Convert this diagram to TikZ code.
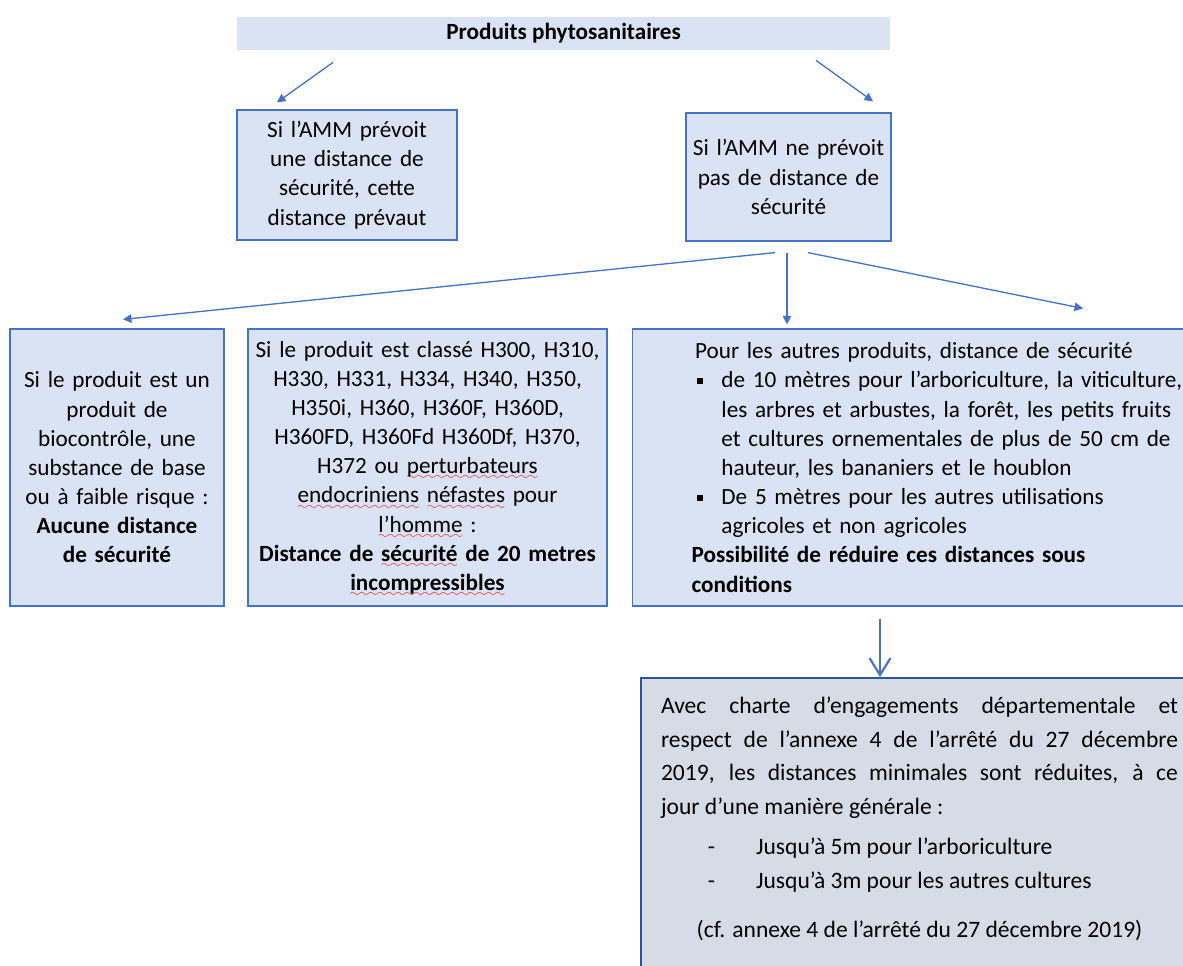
\documentclass[tikz,border=0pt]{standalone}
\usepackage{fontspec}
\setmainfont{Carlito}
\usetikzlibrary{arrows.meta,calc}
\definecolor{fond}{HTML}{DAE3F3}
\definecolor{fondgris}{HTML}{D6DCE5}
\definecolor{bord}{HTML}{4472C4}
\definecolor{bordfonce}{HTML}{2F5597}
\definecolor{trait}{HTML}{4472C4}
\font\sixwave=lasy6
\newcommand\fautewave[1]{\leavevmode\setbox0\hbox{#1}\rlap{\raisebox{-3.5pt}[0pt][0pt]{\textcolor{red}{\hbox to\wd0{\xleaders\hbox{\sixwave\char58}\hfill}}}}\box0\relax}
\newcommand{\corps}{\fontsize{13.2}{16.6}\selectfont}
\newcommand{\puce}{\makebox[17pt][l]{\hspace{3.2pt}\raisebox{2.3pt}{\rule{3.3pt}{3.3pt}}}}
\newcommand{\suite}{\hspace*{17pt}}
\newcommand{\tiret}{\hspace*{26.6pt}\makebox[27.5pt][l]{-}}
\tikzset{
  cadre/.style={draw=bord,fill=fond,line width=0.7pt,align=center,inner sep=1pt},
  fleche/.style={-{Triangle[length=1.7mm,width=1.7mm]},line width=0.75pt,draw=trait},
}

\begin{document}
\begin{tikzpicture}[x=0.02cm,y=-0.02cm,font=\corps]
  \useasboundingbox (0,0) rectangle (1183,965);
  \clip (0,0) rectangle (1183,965);
  % titre
  \node[fill=fond,minimum width=13.06cm,minimum height=0.66cm,font=\corps\bfseries] (titre) at (563.5,33.5) {Produits phytosanitaires};
  % deux cas AMM
  \node[cadre,minimum width=4.4cm,minimum height=2.6cm,text width=4.3cm] (amm) at (347,175)
    {Si l’AMM prévoit\\une distance de\\sécurité, cette\\distance prévaut};
  \node[cadre,minimum width=4.1cm,minimum height=2.56cm,text width=4.0cm] (pasamm) at (788.5,177)
    {Si l’AMM ne prévoit\\pas de distance de\\sécurité};
  % trois cas produits
  \node[cadre,minimum width=4.28cm,minimum height=5.54cm,text width=4.18cm] (bio) at (117,467.5)
    {Si le produit est un\\produit de\\biocontrôle, une\\substance de base\\ou à faible risque :\\\textbf{Aucune distance}\\\textbf{de sécurité}};
  \node[cadre,minimum width=7.18cm,minimum height=5.54cm,text width=7.08cm] (classe) at (427.5,467.5)
    {Si le produit est classé H300, H310,\\H330, H331, H334, H340, H350,\\H350i, H360, H360F, H360D,\\H360FD, H360Fd H360Df, H370,\\H372 ou \fautewave{perturbateurs}\\\fautewave{endocriniens} \fautewave{néfastes} pour\\\fautewave{l’homme} :\\\textbf{Distance de \fautewave{sécurité} de 20 metres}\\\textbf{\fautewave{incompressibles}}};
  \node[cadre,anchor=west,align=left,inner xsep=1.18cm,minimum height=5.54cm,text width=10.5cm] (autres) at (632,467.5)
    {\hspace*{2pt}Pour les autres produits, distance de sécurité\\
     \puce de 10 mètres pour l’arboriculture, la viticulture,\\
     \suite les arbres et arbustes, la forêt, les petits fruits\\
     \suite et cultures ornementales de plus de 50 cm de\\
     \suite hauteur, les bananiers et le houblon\\
     \puce De 5 mètres pour les autres utilisations\\
     \suite agricoles et non agricoles\\
     \textbf{Possibilité de réduire ces distances sous}\\
     \textbf{conditions}};
  % charte
  \node[draw=bordfonce,fill=fondgris,line width=1.2pt,anchor=north west,align=justify,text width=10.34cm,
        inner xsep=0.4cm,inner ysep=0.38cm,text depth=6cm,font=\fontsize{13.4}{19.1}\selectfont] (charte) at (640,677)
    {Avec charte d’engagements départementale et\linebreak
     respect de l’annexe 4 de l’arrêté du 27 décembre\linebreak
     2019, les distances minimales sont réduites, à ce\linebreak
     jour d’une manière générale :\\[4pt]
     \tiret Jusqu’à 5m pour l’arboriculture\\
     \tiret Jusqu’à 3m pour les autres cultures\\[9pt]
     \makebox[\hsize]{(cf. annexe 4 de l’arrêté du 27 décembre 2019)}};
  % fleches
  \draw[fleche] ($(titre.south)+(-230.5,12)$) -- ($(amm.north)+(-70,-7)$);
  \draw[fleche] ($(titre.south)+(252.5,10)$) -- ($(pasamm.north)+(84.5,-11)$);
  \draw[fleche] ($(pasamm.south)+(-13.5,11)$) -- ($(bio.north)+(6,-9)$);
  \draw[fleche] ($(pasamm.south)+(-1.5,11)$) -- ($(autres.north west)+(155,-4)$);
  \draw[fleche] ($(pasamm.south)+(19.5,11)$) -- ($(autres.north west)+(451,-20)$);
  \draw[-{Straight Barb[length=3.4mm,width=4.2mm]},line width=1.2pt,draw=trait] ($(autres.south west)+(248,12)$) -- ($(charte.north west)+(240,0)$);
\end{tikzpicture}
\end{document}
